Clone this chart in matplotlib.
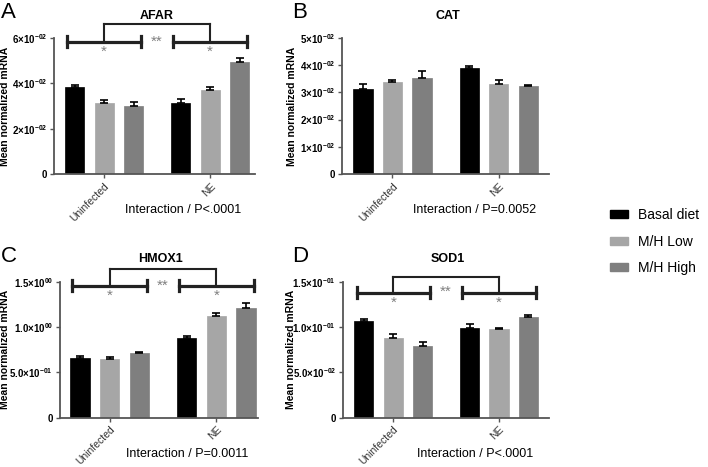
import matplotlib
matplotlib.use("Agg")
import matplotlib.pyplot as plt
import matplotlib.transforms as mtransforms
from matplotlib.patches import Patch

plt.rcParams['font.family'] = ['Liberation Sans', 'DejaVu Sans']
plt.rcParams['mathtext.fontset'] = 'custom'
plt.rcParams['mathtext.rm'] = 'Liberation Sans:bold'
plt.rcParams['mathtext.default'] = 'rm'

# ---- data ---------------------------------------------------------------
groups = ["Uninfected", "NE"]
diets = ["Basal diet", "M/H Low", "M/H High"]
colors = ["#000000", "#a6a6a6", "#7f7f7f"]

# means per diet, [Uninfected, NE]
afar_mean = [[0.0383, 0.0315], [0.0315, 0.0369], [0.0298, 0.0493]]
afar_sem = [[0.0010, 0.0015], [0.0010, 0.0013], [0.0018, 0.0017]]

cat_mean = [[0.0311, 0.0388], [0.0339, 0.0331], [0.0352, 0.0322]]
cat_sem = [[0.0020, 0.0009], [0.0007, 0.0014], [0.0025, 0.0006]]

hmox1_mean = [[0.655, 0.882], [0.651, 1.125], [0.717, 1.210]]
hmox1_sem = [[0.029, 0.022], [0.022, 0.033], [0.011, 0.052]]

sod1_mean = [[0.1063, 0.0989], [0.0882, 0.0978], [0.0787, 0.1107]]
sod1_sem = [[0.0022, 0.0044], [0.0038, 0.0011], [0.0044, 0.0029]]

afar_ticks = [0, 0.02, 0.04, 0.06]
afar_labels = ["0", "2×10$^{-02}$", "4×10$^{-02}$", "6×10$^{-02}$"]
cat_ticks = [0, 0.01, 0.02, 0.03, 0.04, 0.05]
cat_labels = ["0", "1×10$^{-02}$", "2×10$^{-02}$", "3×10$^{-02}$",
              "4×10$^{-02}$", "5×10$^{-02}$"]
hmox1_ticks = [0, 0.5, 1.0, 1.5]
hmox1_labels = ["0", "5.0×10$^{-01}$", "1.0×10$^{00}$", "1.5×10$^{00}$"]
sod1_ticks = [0, 0.05, 0.10, 0.15]
sod1_labels = ["0", "5.0×10$^{-02}$", "1.0×10$^{-01}$", "1.5×10$^{-01}$"]

group_x = [0, 3.6]
offsets = [-1, 0, 1]


def draw_panel(ax, title, mean, sem, ticks, ticklabels, pval,
               xlim, brackets=None, ylabx=-0.22):
    for i in range(3):
        xs = [g + offsets[i] for g in group_x]
        ax.bar(xs, mean[i], width=0.65, color=colors[i], edgecolor=colors[i],
               linewidth=0.5, zorder=2)
        ax.errorbar(xs, mean[i], yerr=[[0, 0], sem[i]], fmt='none',
                    ecolor='black', elinewidth=1.2, capsize=3, capthick=1.2,
                    zorder=3)
    ax.set_xlim(xlim)
    ax.set_ylim(0, ticks[-1])
    ax.set_yticks(ticks)
    ax.set_yticklabels(ticklabels, fontsize=7, fontweight='bold')
    ax.set_xticks(group_x)
    ax.set_xticklabels(groups, rotation=45, ha='right', rotation_mode='anchor',
                       fontsize=7.5, color='#333333')
    for s in ['top', 'right']:
        ax.spines[s].set_visible(False)
    for s in ['left', 'bottom']:
        ax.spines[s].set_color('#555555')
        ax.spines[s].set_linewidth(1.3)
    ax.tick_params(axis='both', length=3, width=1, color='#555555', pad=2)
    ax.set_ylabel("Mean normalized mRNA", fontsize=7.5, fontweight='bold')
    ax.yaxis.set_label_coords(ylabx, 0.5)
    ax.text(0.51, 1.165, title, transform=ax.transAxes, ha='center',
            va='center', fontsize=9, fontweight='bold')
    ax.text(0.64, -0.265, "Interaction / " + pval, transform=ax.transAxes,
            ha='center', va='center', fontsize=9)

    if brackets:
        low, high, star_y, dstar_y = brackets
        tr = mtransforms.blended_transform_factory(ax.transData, ax.transAxes)
        for g in group_x:
            ax.plot([g - 1.25, g + 1.25], [low, low], color='#222222', lw=2.3,
                    transform=tr, clip_on=False)
            for e in (g - 1.25, g + 1.25):
                ax.plot([e, e], [low - 0.04, low + 0.04], color='#222222',
                        lw=2.3, transform=tr, clip_on=False)
            ax.plot([g, g], [low, high], color='#222222', lw=1.5,
                    transform=tr, clip_on=False)
            ax.text(g, star_y, "*", color='#808080', ha='center', va='center',
                    fontsize=11, transform=tr)
        ax.plot(group_x, [high, high], color='#222222', lw=1.5,
                transform=tr, clip_on=False)
        ax.text(sum(group_x) / 2, dstar_y, "**", color='#808080', ha='center',
                va='center', fontsize=11, transform=tr)


fig = plt.figure(figsize=(7.08, 4.67), dpi=100)
ax_a = fig.add_axes([54 / 708, 1 - 174 / 467, 201 / 708, 136 / 467])
ax_b = fig.add_axes([342 / 708, 1 - 174 / 467, 207 / 708, 136 / 467])
ax_c = fig.add_axes([60 / 708, 1 - 417.7 / 467, 198 / 708, 136 / 467])
ax_d = fig.add_axes([343 / 708, 1 - 417.7 / 467, 206 / 708, 136 / 467])

draw_panel(ax_a, "AFAR", afar_mean, afar_sem, afar_ticks, afar_labels,
           "P<.0001", (-1.7, 5.12), brackets=(0.973, 1.10, 0.90, 0.975))
draw_panel(ax_b, "CAT", cat_mean, cat_sem, cat_ticks, cat_labels,
           "P=0.0052", (-1.71, 5.3), ylabx=-0.217)
draw_panel(ax_c, "HMOX1", hmox1_mean, hmox1_sem, hmox1_ticks,
           hmox1_labels, "P=0.0011", (-1.67, 5.0),
           brackets=(0.97, 1.09, 0.895, 0.968), ylabx=-0.255)
draw_panel(ax_d, "SOD1", sod1_mean, sod1_sem, sod1_ticks, sod1_labels,
           "P<.0001", (-1.71, 5.3), brackets=(0.919, 1.032, 0.845, 0.925),
           ylabx=-0.228)

# panel letters
for letter, px, py in [("A", 1, 13), ("B", 292, 13), ("C", 1, 257), ("D", 292, 257)]:
    fig.text(px / 708, 1 - py / 467, letter, ha='left', va='center', fontsize=16)

handles = [Patch(facecolor=c, edgecolor=c) for c in colors]
fig.legend(handles, diets, loc='upper left', bbox_to_anchor=(610 / 708, 1 - 208 / 467),
           frameon=False, fontsize=10, handlelength=1.3, handleheight=0.5,
           labelspacing=0.9, handletextpad=0.7, borderpad=0, borderaxespad=0)

fig.savefig("out.png", dpi=100)
